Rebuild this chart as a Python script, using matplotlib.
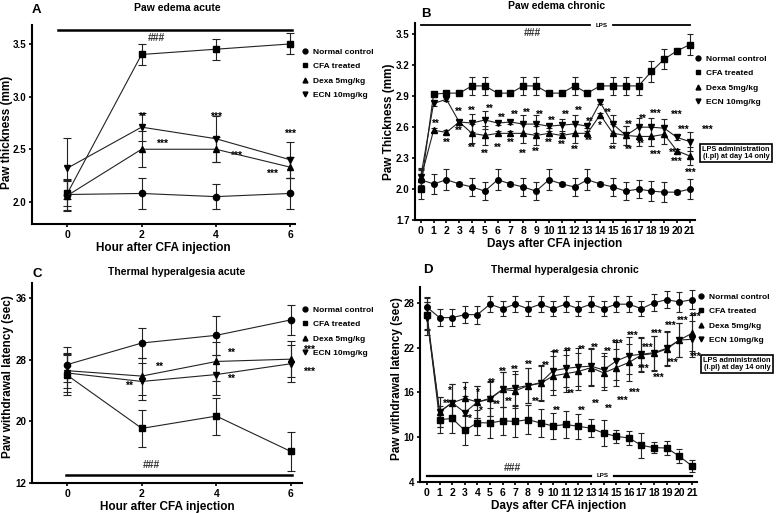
import matplotlib
matplotlib.use("Agg")
import matplotlib.pyplot as plt
from matplotlib.lines import Line2D

plt.rcParams['font.family'] = ['Liberation Sans', 'DejaVu Sans']
plt.rcParams['font.weight'] = 'bold'
plt.rcParams['axes.labelweight'] = 'bold'

W, H = 777, 513

group_names = ["Normal control", "CFA treated", "Dexa 5mg/kg", "ECN 10mg/kg"]
group_markers = ["o", "s", "^", "v"]

# ---- A: paw edema acute ----
hours = [0, 2, 4, 6]
a_normal = [2.07, 2.08, 2.05, 2.08]
a_cfa = [2.08, 3.40, 3.45, 3.50]
a_dexa = [2.06, 2.50, 2.50, 2.33]
a_ecn = [2.32, 2.71, 2.60, 2.40]
a_normal_err = [0.15, 0.15, 0.12, 0.15]
a_cfa_err = [0.12, 0.10, 0.10, 0.10]
a_dexa_err = [0.15, 0.17, 0.12, 0.10]
a_ecn_err = [0.29, 0.13, 0.22, 0.17]

# ---- B: paw edema chronic ----
days = list(range(22))
b_normal = [2.09, 2.05, 2.09, 2.05, 2.02, 1.98, 2.09, 2.05, 2.02, 1.98, 2.09,
            2.05, 2.02, 2.09, 2.05, 2.02, 1.98, 2.00, 1.98, 1.97, 1.97, 2.00]
b_cfa = [2.00, 2.92, 2.93, 2.93, 3.00, 3.00, 2.93, 2.93, 3.00, 3.00, 2.93,
         2.93, 3.00, 2.93, 3.00, 3.00, 3.00, 3.00, 3.14, 3.26, 3.34, 3.40]
b_dexa = [2.10, 2.57, 2.55, 2.65, 2.54, 2.52, 2.54, 2.54, 2.54, 2.52, 2.54,
          2.52, 2.54, 2.54, 2.72, 2.54, 2.52, 2.51, 2.51, 2.53, 2.37, 2.32]
b_ecn = [2.12, 2.83, 2.87, 2.65, 2.64, 2.67, 2.64, 2.65, 2.63, 2.63, 2.61,
         2.62, 2.63, 2.61, 2.84, 2.63, 2.52, 2.60, 2.60, 2.59, 2.50, 2.46]
b_normal_err = [0.10, 0.10, 0.10, 0.02, 0.09, 0.09, 0.10, 0.02, 0.09, 0.09, 0.10,
                0.02, 0.09, 0.10, 0.02, 0.09, 0.09, 0.09, 0.10, 0.10, 0.02, 0.10]
b_cfa_err = [0.10, 0.02, 0.02, 0.02, 0.09, 0.09, 0.02, 0.02, 0.09, 0.09, 0.02,
             0.02, 0.09, 0.02, 0.02, 0.09, 0.09, 0.09, 0.10, 0.10, 0.02, 0.10]
b_dexa_err = [0.08, 0.02, 0.02, 0.02, 0.09, 0.09, 0.02, 0.02, 0.09, 0.09, 0.02,
              0.02, 0.09, 0.02, 0.02, 0.09, 0.09, 0.09, 0.09, 0.09, 0.02, 0.09]
b_ecn_err = [0.08, 0.02, 0.02, 0.02, 0.09, 0.09, 0.02, 0.02, 0.09, 0.09, 0.02,
             0.06, 0.09, 0.02, 0.02, 0.09, 0.09, 0.09, 0.09, 0.09, 0.02, 0.09]

# ---- C: thermal hyperalgesia acute ----
c_normal = [27.4, 30.2, 31.2, 33.2]
c_cfa = [26.0, 19.1, 20.7, 16.1]
c_dexa = [26.6, 25.9, 27.8, 28.1]
c_ecn = [26.3, 25.2, 26.1, 27.5]
c_normal_err = [2.3, 1.9, 2.5, 2.0]
c_cfa_err = [2.6, 2.4, 2.4, 2.5]
c_dexa_err = [2.3, 2.4, 2.5, 2.3]
c_ecn_err = [2.5, 2.4, 2.6, 2.4]

# ---- D: thermal hyperalgesia chronic ----
d_normal = [27.4, 26.0, 26.0, 26.4, 26.4, 27.8, 27.2, 27.8, 27.2, 27.8, 27.2,
            27.8, 27.2, 27.8, 27.2, 27.8, 27.8, 27.2, 28.0, 28.4, 28.1, 28.4]
d_cfa = [26.3, 12.35, 12.5, 10.9, 11.95, 11.9, 12.2, 12.1, 12.35, 11.9, 11.5,
         11.7, 11.45, 11.2, 10.55, 10.1, 9.9, 8.9, 8.6, 8.55, 7.45, 6.15]
d_dexa = [26.5, 13.4, 14.6, 15.2, 14.7, 15.2, 16.4, 16.2, 16.9, 17.2, 18.2,
          18.5, 18.8, 19.3, 18.6, 19.3, 20.0, 21.0, 21.2, 21.8, 23.0, 23.9]
d_ecn = [25.9, 13.4, 14.6, 13.3, 14.7, 15.1, 16.4, 16.6, 16.9, 17.3, 18.9,
         19.2, 19.4, 19.5, 19.0, 20.2, 20.9, 21.1, 21.3, 21.9, 23.0, 23.1]
d_normal_err = [1.2, 1.1, 1.1, 1.1, 1.2, 1.1, 1.0, 1.1, 1.0, 1.1, 1.0,
                1.1, 1.0, 1.1, 1.0, 1.1, 1.1, 1.0, 1.1, 1.1, 1.3, 1.3]
d_cfa_err = [1.8, 1.8, 2.0, 2.0, 1.7, 2.0, 1.9, 2.1, 1.9, 1.9, 1.7,
             1.8, 1.7, 1.2, 1.7, 0.9, 0.9, 1.7, 0.7, 1.0, 0.9, 0.8]
d_dexa_err = [2.2, 2.0, 2.5, 2.2, 2.2, 2.3, 2.3, 2.3, 2.3, 2.3, 2.6,
              2.5, 2.5, 2.5, 2.3, 2.5, 2.5, 2.3, 2.3, 2.3, 2.3, 2.4]
d_ecn_err = [2.2, 2.0, 2.5, 2.2, 2.2, 2.3, 2.3, 2.3, 2.3, 2.3, 2.6,
             2.5, 2.5, 2.5, 2.3, 2.5, 2.5, 2.3, 2.3, 2.3, 2.3, 2.4]

# significance marks (x, y, text)
a_stars = [(2, 2.81, "**"), (2.55, 2.55, "***"), (4, 2.81, "***"), (4.55, 2.44, "***"),
           (6, 2.65, "***"), (5.5, 2.27, "***")]
b_stars = [(1.2, 2.63, "**"), (3, 2.75, "**"), (4, 2.76, "**"), (5.4, 2.78, "**"),
           (6.3, 2.69, "**"), (7.3, 2.72, "**"), (8.3, 2.74, "**"), (9.3, 2.72, "**"),
           (10.2, 2.66, "**"), (11.3, 2.72, "**"), (12.3, 2.76, "**"), (13.2, 2.65, "**"),
           (14.6, 2.74, "**"), (16.2, 2.62, "**"), (17.3, 2.68, "**"), (18.3, 2.73, "***"),
           (20.0, 2.72, "***"), (20.5, 2.57, "***"), (22.4, 2.57, "***"),
           (2, 2.45, "**"), (3, 2.56, "**"), (4, 2.40, "**"), (5, 2.34, "**"),
           (6, 2.40, "**"), (7, 2.45, "**"), (8, 2.34, "**"), (9, 2.36, "**"),
           (10, 2.45, "**"), (11, 2.43, "**"), (12, 2.38, "**"), (13.1, 2.47, "**"),
           (14, 2.61, "*"), (15, 2.38, "**"), (16.2, 2.38, "**"), (17.2, 2.44, "**"),
           (18.3, 2.33, "***"), (19.8, 2.35, "***"), (20, 2.26, "***"), (21.1, 2.16, "***")]
c_stars = [(2.45, 27.1, "**"), (1.65, 24.6, "**"), (4.4, 28.9, "**"), (4.4, 25.6, "**"),
           (6.5, 29.3, "***"), (6.5, 26.4, "***")]
d_stars = [(1.8, 16.2, "*"), (3, 16.2, "*"), (4, 16.0, "*"), (5.1, 17.3, "**"),
           (6, 18.8, "**"), (7, 19.0, "**"), (8.1, 19.7, "**"), (9.4, 19.6, "**"),
           (10.2, 21.1, "**"), (11.2, 21.4, "**"), (12.3, 21.7, "**"), (13.3, 21.9, "**"),
           (14.3, 21.4, "**"), (15.1, 22.5, "***"), (16.3, 23.5, "***"), (17.5, 21.9, "***"),
           (18.2, 23.8, "***"), (19.3, 24.9, "***"), (20.3, 25.6, "***"), (21.3, 26.1, "***"),
           (1.6, 14.5, "**"), (3.4, 12.5, "*"), (4.3, 13.5, "*"), (5.5, 14.3, "**"),
           (6.5, 14.7, "**"), (8.6, 14.7, "**"), (10.3, 13.5, "**"), (11.4, 15.8, "**"),
           (12.3, 13.5, "**"), (13.4, 14.5, "**"), (14.4, 13.8, "**"), (15.5, 14.8, "***"),
           (16.5, 15.9, "***"), (17.2, 19.1, "***"), (18.4, 17.9, "***"), (19.5, 20.0, "***"),
           (21.3, 20.8, "***")]


def rect(l, t, r, b):
    return [l / W, 1 - b / H, (r - l) / W, (b - t) / H]


def style_axes(ax, ylab_x, ylab_y):
    for s in ["top", "right"]:
        ax.spines[s].set_visible(False)
    for s in ["left", "bottom"]:
        ax.spines[s].set_linewidth(1.5)
    ax.tick_params(width=1.2, length=2.5, pad=1.5)
    ax.tick_params(axis='x', labelsize=7.5)
    ax.tick_params(axis='y', labelsize=7)
    for lab in ax.get_xticklabels() + ax.get_yticklabels():
        lab.set_fontweight('bold')
    ax.yaxis.set_label_coords(ylab_x, ylab_y)


def draw_groups(ax, x, series, errs, ms=4.5, cap=2.5):
    for y, e, m in zip(series, errs, group_markers):
        ax.errorbar(x, y, yerr=e, fmt='-' + m, color='#222222', mfc='black', mec='black',
                    ms=ms, lw=0.8, elinewidth=0.8, capsize=cap, capthick=0.8, zorder=3)


def draw_stars(ax, stars, size=7.5):
    for x, y, t in stars:
        ax.text(x, y, t, ha='center', va='center', fontsize=size, fontweight='bold')


def draw_legend(ax, x, y):
    handles = [Line2D([], [], marker=m, color='black', ls='none', ms=3.5) for m in group_markers]
    ax.legend(handles, group_names, loc='upper left', bbox_to_anchor=(x / W, 1 - y / H),
              bbox_transform=fig.transFigure, frameon=False,
              handlelength=0.8, handletextpad=0.5, labelspacing=0.8, borderpad=0,
              borderaxespad=0, prop={'weight': 'bold', 'size': 6})


def lps_box(x, y):
    fig.text(x / W, 1 - y / H, "LPS administration\n(i.pl) at day 14 only", ha='center',
             va='center', fontsize=5.3, fontweight='bold', linespacing=1.1,
             bbox=dict(boxstyle='square,pad=0.3', fc='white', ec='black', lw=1.2))


def ftext(x, y, s, **kw):
    fig.text(x / W, 1 - y / H, s, fontweight='bold', **kw)


fig = plt.figure(figsize=(W / 100, H / 100), dpi=100)

# Panel A
axA = fig.add_axes(rect(32, 25, 295, 224))
draw_groups(axA, hours, [a_normal, a_cfa, a_dexa, a_ecn],
            [a_normal_err, a_cfa_err, a_dexa_err, a_ecn_err], cap=3)
axA.set_xlim(-0.95, 6.13)
axA.set_ylim(1.79, 3.68)
axA.set_xticks(hours)
axA.set_yticks([2.0, 2.5, 3.0, 3.5])
axA.plot([-0.25, 6.05], [3.63, 3.63], color='black', lw=1.8, clip_on=False)
axA.text(2.4, 3.56, "###", ha='center', va='center', fontsize=7.5, color='#333333')
draw_stars(axA, a_stars)
axA.set_xlabel("Hour after CFA injection", fontsize=8.5, labelpad=2)
axA.set_ylabel("Paw thickness (mm)", fontsize=8.5)
style_axes(axA, -0.072, 0.46)
draw_legend(axA, 302, 48)
ftext(177, 8, "Paw edema acute", ha='center', va='center', fontsize=7.5)
ftext(36, 10, "A", ha='center', va='center', fontsize=9.5)

# Panel B
axB = fig.add_axes(rect(415, 23, 695, 220))
draw_groups(axB, days, [b_normal, b_cfa, b_dexa, b_ecn],
            [b_normal_err, b_cfa_err, b_dexa_err, b_ecn_err], ms=4, cap=2.5)
axB.set_xlim(-0.45, 21.4)
axB.set_ylim(1.7, 3.61)
axB.set_xticks(days)
axB.set_yticks([1.7, 2.0, 2.3, 2.6, 2.9, 3.2, 3.5])
axB.plot([0, 13.2], [3.59, 3.59], color='black', lw=1.3, clip_on=False)
axB.plot([15.0, 21], [3.59, 3.59], color='black', lw=1.3, clip_on=False)
axB.text(14.1, 3.59, "LPS", ha='center', va='center', fontsize=4.5)
axB.text(8.7, 3.51, "###", ha='center', va='center', fontsize=7.5, color='#333333')
draw_stars(axB, b_stars, size=7)
axB.set_xlabel("Days after CFA injection", fontsize=8.5, labelpad=2)
axB.set_ylabel("Paw Thickness (mm)", fontsize=8.5)
style_axes(axB, -0.07, 0.5)
draw_legend(axB, 695, 55)
lps_box(736, 153)
ftext(557, 6, "Paw edema chronic", ha='center', va='center', fontsize=7.5)
ftext(426, 14, "B", ha='center', va='center', fontsize=9.5)

# Panel C
axC = fig.add_axes(rect(32, 283, 302, 483))
draw_groups(axC, hours, [c_normal, c_cfa, c_dexa, c_ecn],
            [c_normal_err, c_cfa_err, c_dexa_err, c_ecn_err], cap=3)
axC.set_xlim(-0.95, 6.3)
axC.set_ylim(12, 38)
axC.set_xticks(hours)
axC.set_yticks([12, 20, 28, 36])
axC.plot([-0.05, 6.02], [13.1, 13.1], color='black', lw=1.8, clip_on=False)
axC.text(2.25, 14.3, "###", ha='center', va='center', fontsize=7.5, color='#333333')
draw_stars(axC, c_stars)
axC.set_xlabel("Hour after CFA injection", fontsize=8.5, labelpad=2)
axC.set_ylabel("Paw withdrawal latency (sec)", fontsize=8.5)
style_axes(axC, -0.067, 0.53)
draw_legend(axC, 302, 306)
ftext(177, 272, "Thermal hyperalgesia acute", ha='center', va='center', fontsize=7.5)
ftext(37, 274, "C", ha='center', va='center', fontsize=9.5)

# Panel D
axD = fig.add_axes(rect(420, 287, 697, 482))
draw_groups(axD, days, [d_normal, d_cfa, d_dexa, d_ecn],
            [d_normal_err, d_cfa_err, d_dexa_err, d_ecn_err], ms=4, cap=2.5)
axD.set_xlim(-0.55, 21.4)
axD.set_ylim(4, 30.1)
axD.set_xticks(days)
axD.set_yticks([4, 10, 16, 22, 28])
axD.plot([0, 13.0], [4.75, 4.75], color='black', lw=1.6, clip_on=False)
axD.plot([14.8, 21], [4.75, 4.75], color='black', lw=1.6, clip_on=False)
axD.text(13.9, 4.9, "LPS", ha='center', va='center', fontsize=4.5)
axD.text(6.8, 5.9, "###", ha='center', va='center', fontsize=7.5, color='#333333')
draw_stars(axD, d_stars, size=7)
axD.set_xlabel("Days after CFA injection", fontsize=8.5, labelpad=2)
axD.set_ylabel("Paw withdrawal latency (sec)", fontsize=8.5)
style_axes(axD, -0.061, 0.53)
draw_legend(axD, 698, 293)
lps_box(737, 364)
ftext(565, 270, "Thermal hyperalgesia chronic", ha='center', va='center', fontsize=7.5)
ftext(428, 270, "D", ha='center', va='center', fontsize=9.5)

fig.savefig("out.png", dpi=100)
